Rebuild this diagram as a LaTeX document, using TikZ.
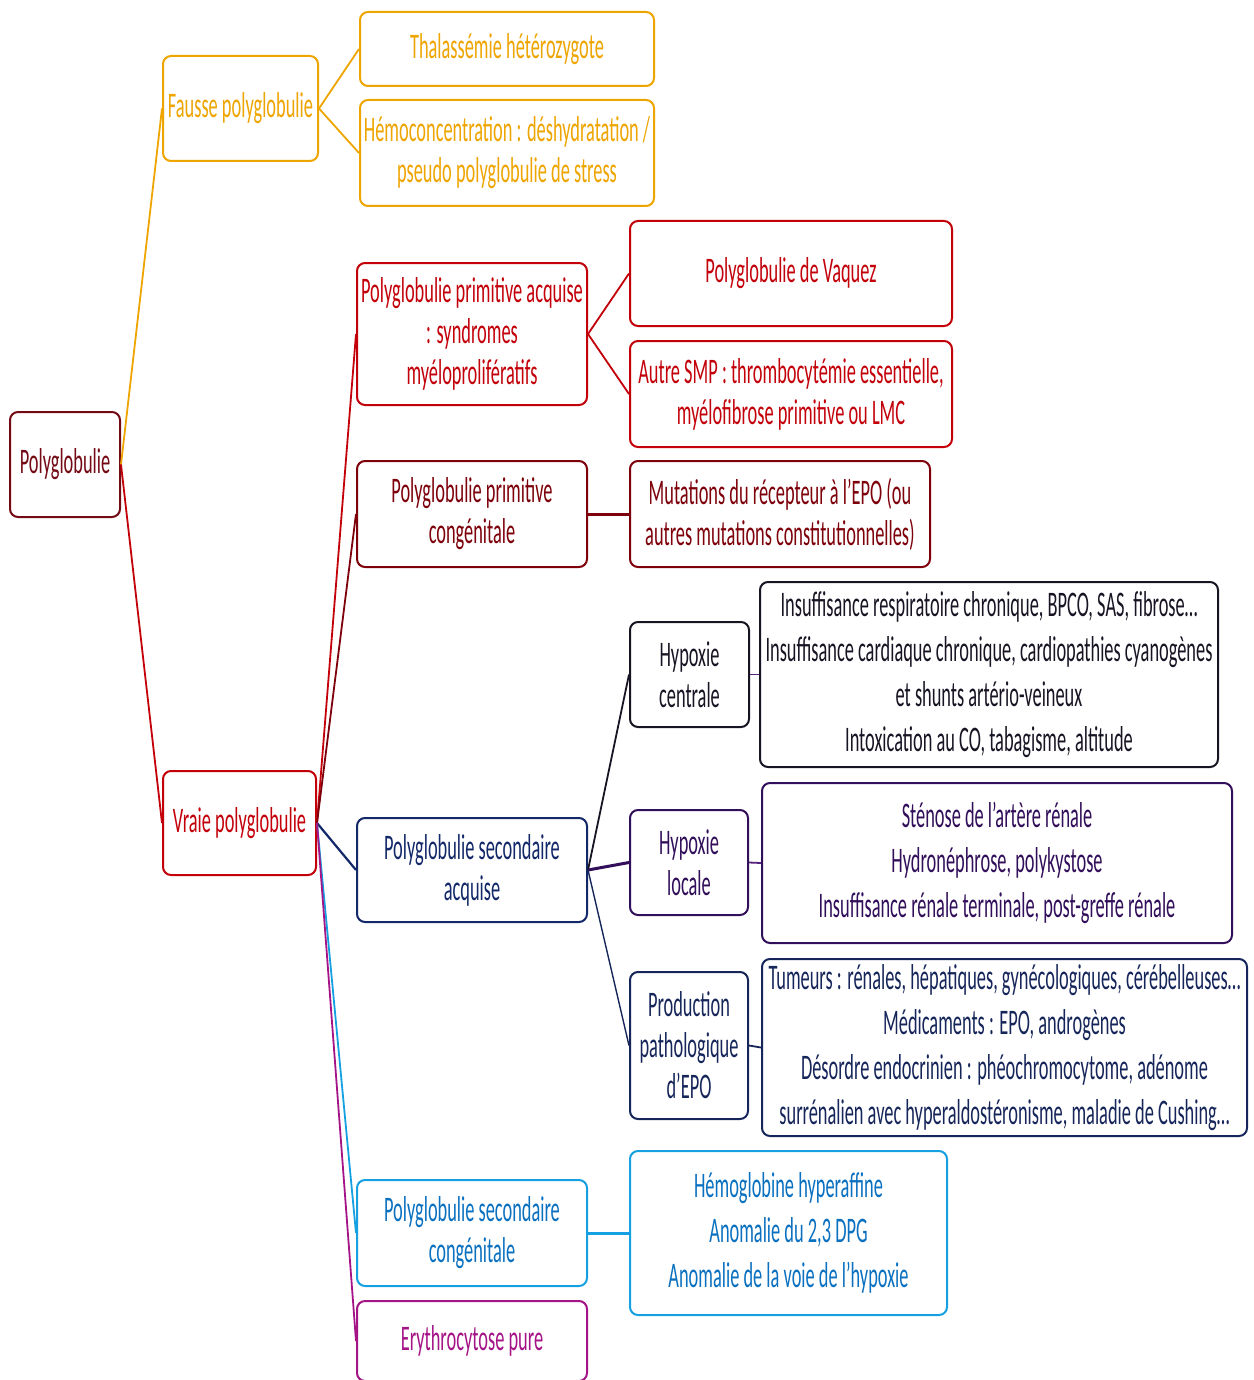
\documentclass[tikz,border=0pt]{standalone}
\usepackage{fontspec}
\setmainfont{Carlito}[FakeStretch=0.51]
\definecolor{cMaroon}{RGB}{115,10,20}
\definecolor{cOrange}{RGB}{238,165,0}
\definecolor{cRed}{RGB}{195,0,10}
\definecolor{cDarkRed}{RGB}{125,0,10}
\definecolor{cNavy}{RGB}{18,40,105}
\definecolor{cBlack}{RGB}{25,20,35}
\definecolor{cPurple}{RGB}{50,15,90}
\definecolor{cPurpleLine}{RGB}{85,35,125}
\definecolor{cNavy2}{RGB}{22,38,90}
\definecolor{cBlueText}{RGB}{10,112,192}
\definecolor{cBlueLine}{RGB}{20,160,225}
\definecolor{cMagenta}{RGB}{165,20,135}
\begin{document}
\begin{tikzpicture}[x=1pt,y=-1pt,
  box/.style={draw=#1, text=#1, rounded corners=8pt, line width=2pt, align=center,
    inner sep=2pt, fill=white, font=\fontsize{36}{41}\selectfont},
  bigbox/.style={box=#1, font=\fontsize{36}{45}\selectfont},
  link/.style={draw=#1, line width=1.8pt}]
\useasboundingbox (0,0) rectangle (1253,1380);

% nodes
\node[box=cMaroon, minimum width=110pt, minimum height=105pt] (poly) at (65,464.5) {Polyglobulie};
\node[box=cOrange, minimum width=155pt, minimum height=105pt] (fausse) at (240.5,108.5) {Fausse polyglobulie};
\node[box=cOrange, minimum width=294pt, minimum height=74pt] (thal) at (507,49) {Thalassémie hétérozygote};
\node[box=cOrange, minimum width=294pt, minimum height=106pt] (hemo) at (507,153) {Hémoconcentration : déshydratation /\\pseudo polyglobulie de stress};

\node[box=cRed, minimum width=153pt, minimum height=104pt] (vraie) at (239.5,823) {Vraie polyglobulie};
\node[box=cRed, minimum width=230pt, minimum height=142pt] (pacq) at (472,334) {Polyglobulie primitive acquise\\: syndromes\\myéloprolifératifs};
\node[box=cRed, minimum width=322pt, minimum height=105pt] (vaquez) at (791,273.5) {Polyglobulie de Vaquez};
\node[box=cRed, minimum width=322pt, minimum height=106pt] (smp) at (791,394) {Autre SMP : thrombocytémie essentielle,\\myélofibrose primitive ou LMC};

\node[box=cDarkRed, minimum width=230pt, minimum height=106pt] (pcong) at (472,514) {Polyglobulie primitive\\congénitale};
\node[box=cDarkRed, minimum width=300pt, minimum height=106pt] (mut) at (780,514) {Mutations du récepteur à l’EPO (ou\\autres mutations constitutionnelles)};

\node[box=cNavy, minimum width=230pt, minimum height=104pt] (sacq) at (472,870) {Polyglobulie secondaire\\acquise};
\node[box=cBlack, minimum width=119pt, minimum height=105pt] (hc) at (689.5,674.5) {Hypoxie\\centrale};
\node[bigbox=cBlack, minimum width=458pt, minimum height=185pt] (hcbox) at (989,674.5) {Insuffisance respiratoire chronique, BPCO, SAS, fibrose…\\Insuffisance cardiaque chronique, cardiopathies cyanogènes\\et shunts artério-veineux\\Intoxication au CO, tabagisme, altitude};
\node[box=cPurple, minimum width=118pt, minimum height=105pt] (hl) at (689,862.5) {Hypoxie\\locale};
\node[bigbox=cPurple, minimum width=470pt, minimum height=160pt] (hlbox) at (997,863) {Sténose de l’artère rénale\\Hydronéphrose, polykystose\\Insuffisance rénale terminale, post-greffe rénale};
\node[box=cNavy2, minimum width=118pt, minimum height=147pt] (prod) at (689,1045.5) {Production\\pathologique\\d’EPO};
\node[bigbox=cNavy2, minimum width=485pt, minimum height=177pt] (prodbox) at (1004.5,1047.5) {Tumeurs : rénales, hépatiques, gynécologiques, cérébelleuses…\\Médicaments : EPO, androgènes\\Désordre endocrinien : phéochromocytome, adénome\\surrénalien avec hyperaldostéronisme, maladie de Cushing…};

\node[box=cBlueText, draw=cBlueLine, minimum width=230pt, minimum height=106pt] (scong) at (472,1233) {Polyglobulie secondaire\\congénitale};
\node[bigbox=cBlueText, draw=cBlueLine, minimum width=317pt, minimum height=164pt] (scbox) at (788.5,1233) {Hémoglobine hyperaffine\\Anomalie du 2,3 DPG\\Anomalie de la voie de l’hypoxie};

\node[box=cMagenta, minimum width=230pt, minimum height=80pt] (ery) at (472,1341) {Erythrocytose pure};

% connectors
\draw[link=cOrange] (poly.east) -- (fausse.west);
\draw[link=cRed] (poly.east) -- (vraie.west);
\draw[link=cOrange] (fausse.east) -- (thal.west);
\draw[link=cOrange] (fausse.east) -- (hemo.west);

\draw[link=cRed] (vraie.east) -- (pacq.west);
\draw[link=cDarkRed] (vraie.east) -- (pcong.west);
\draw[link=cNavy, line width=2.2pt] (vraie.east) -- (sacq.west);
\draw[link=cBlueLine] (vraie.east) -- (scong.west);
\draw[link=cMagenta] (vraie.east) -- (ery.west);

\draw[link=cRed] (pacq.east) -- (vaquez.west);
\draw[link=cRed] (pacq.east) -- (smp.west);
\draw[link=cDarkRed, line width=3pt] (pcong.east) -- (mut.west);

\draw[link=cBlack] (sacq.east) -- (hc.west);
\draw[link=cPurple, line width=3pt] (sacq.east) -- (hl.west);
\draw[link=cNavy2, line width=1.4pt] (sacq.east) -- (prod.west);
\draw[link=cPurpleLine] (hc.east) -- (hcbox.west);
\draw[link=cPurpleLine] (hl.east) -- (hlbox.west);
\draw[link=cNavy2] (prod.east) -- (prodbox.west);
\draw[link=cBlueLine, line width=3pt] (scong.east) -- (scbox.west);
\end{tikzpicture}
\end{document}
